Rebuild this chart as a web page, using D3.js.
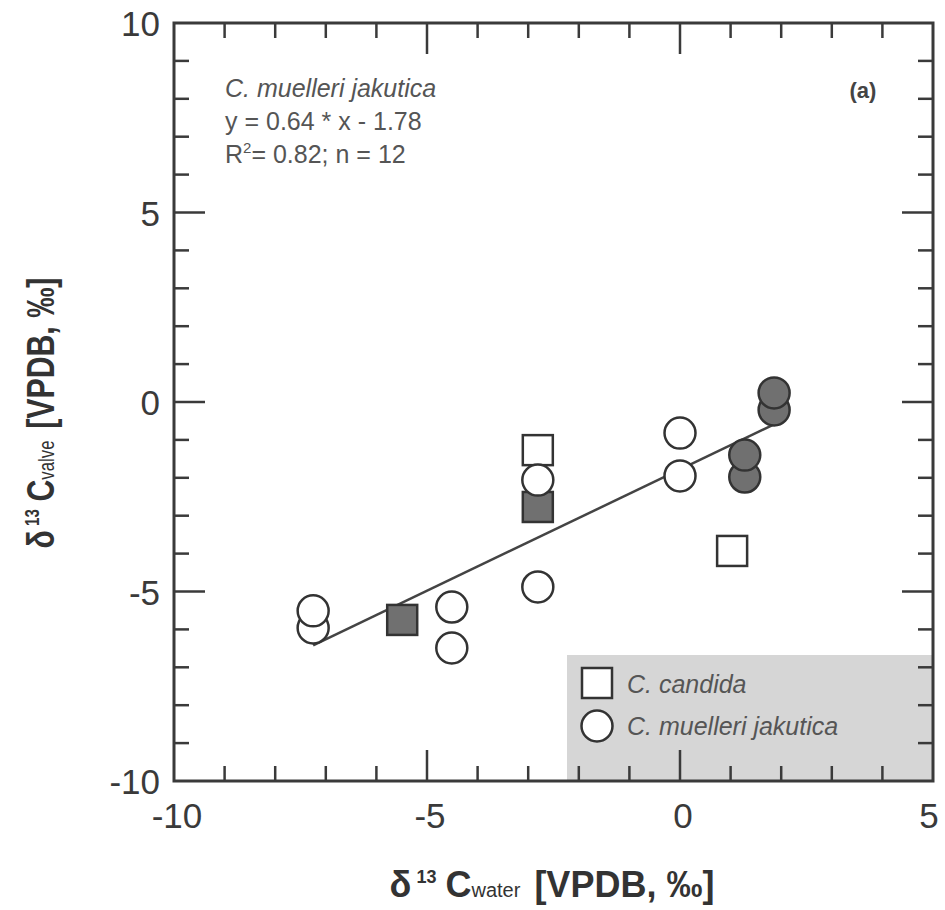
<!DOCTYPE html>
<html><head><meta charset="utf-8">
<script src="https://cdn.jsdelivr.net/npm/d3@7"></script>
<style>body{margin:0;background:#fff}</style>
</head><body>
<script>
// Data (x = δ13C water, y = δ13C valve)
const candidaOpen = [[-2.81,-1.27],[1.03,-3.93]];
const candidaFilled = [[-2.81,-2.77],[-5.49,-5.75]];
const muelleriOpen = [[-7.25,-5.96],[-7.25,-5.51],[-4.51,-6.49],[-4.51,-5.41],[-2.81,-4.88],[-2.81,-2.06],[0.0,-1.95],[0.0,-0.82]];
const muelleriFilled = [[1.28,-1.98],[1.28,-1.40],[1.86,-0.21],[1.86,0.24]];
const regression = {slope:0.64, intercept:-1.78, xMin:-7.25, xMax:1.86};
const xTicks = [-10,-5,0,5];
const yTicks = [-10,-5,0,5,10];
const annotation = ["C. muelleri jakutica","y = 0.64 * x - 1.78","R2= 0.82; n = 12"];
const legendItems = ["C. candida","C. muelleri jakutica"];

const W=945,H=910;
const L=174,R=933,T=23,B=781;
const svg=d3.select("body").append("svg").attr("width",W).attr("height",H);
const x=d3.scaleLinear().domain([-10,5]).range([L,R]);
const y=d3.scaleLinear().domain([-10,10]).range([B,T]);
const ink="#3a3a3a";
const font="'Liberation Sans', Arial, sans-serif";

// legend background
svg.append("rect").attr("x",567).attr("y",655).attr("width",R-567).attr("height",B-655).attr("fill","#d6d6d6");

// ticks (inward, all sides)
const minorX=d3.range(-10,5.01,1), minorY=d3.range(-10,10.01,1);
const tk=svg.append("g").attr("stroke",ink).attr("stroke-width",2.5);
minorX.forEach(v=>{
  const len = (v%5===0)?31:15;
  if(v>-10&&v<5){
    tk.append("line").attr("x1",x(v)).attr("x2",x(v)).attr("y1",B).attr("y2",B-len);
    tk.append("line").attr("x1",x(v)).attr("x2",x(v)).attr("y1",T).attr("y2",T+len);
  }
});
minorY.forEach(v=>{
  const len = (v%5===0)?31:15;
  if(v>-10&&v<10){
    tk.append("line").attr("y1",y(v)).attr("y2",y(v)).attr("x1",L).attr("x2",L+len);
    tk.append("line").attr("y1",y(v)).attr("y2",y(v)).attr("x1",R).attr("x2",R-len);
  }
});
svg.append("rect").attr("x",L).attr("y",T).attr("width",R-L).attr("height",B-T)
  .attr("fill","none").attr("stroke",ink).attr("stroke-width",3);

// tick labels
svg.append("g").selectAll("text").data(xTicks).join("text")
  .attr("x",d=>x(d)+(d===5?-4:3)).attr("y",B+47).attr("text-anchor","middle")
  .attr("font-family",font).attr("font-size",35).attr("fill",ink).text(d=>d);
svg.append("g").selectAll("text").data(yTicks).join("text")
  .attr("x",160).attr("y",d=>y(d)+13).attr("text-anchor","end")
  .attr("font-family",font).attr("font-size",35).attr("fill",ink).text(d=>d);

// regression line
svg.append("line")
  .attr("x1",x(regression.xMin)).attr("y1",y(regression.slope*regression.xMin+regression.intercept))
  .attr("x2",x(regression.xMax)).attr("y2",y(regression.slope*regression.xMax+regression.intercept))
  .attr("stroke","#444").attr("stroke-width",2.5);

// markers
const S=30, rC=15.5;
function squares(data,fill){
  svg.append("g").selectAll("rect").data(data).join("rect")
    .attr("x",d=>x(d[0])-S/2).attr("y",d=>y(d[1])-S/2).attr("width",S).attr("height",S)
    .attr("fill",fill).attr("stroke","#333").attr("stroke-width",2.5);
}
function circles(data,fill){
  svg.append("g").selectAll("circle").data(data).join("circle")
    .attr("cx",d=>x(d[0])).attr("cy",d=>y(d[1])).attr("r",rC)
    .attr("fill",fill).attr("stroke","#333").attr("stroke-width",2.5);
}
squares(candidaOpen,"#fff");
squares(candidaFilled,"#707070");
circles(muelleriOpen,"#fff");
circles(muelleriFilled,"#707070");

// annotation
const ann=svg.append("g").attr("font-family",font).attr("font-size",25).attr("fill","#555");
ann.append("text").attr("x",225).attr("y",97).attr("font-style","italic").text(annotation[0]);
ann.append("text").attr("x",225).attr("y",130).text(annotation[1]);
const r2=ann.append("text").attr("x",225).attr("y",163);
r2.append("tspan").text("R");
r2.append("tspan").attr("font-size",15).attr("dy",-10).text("2");
r2.append("tspan").attr("dy",10).text("= 0.82; n = 12");
svg.append("text").attr("x",863).attr("y",98).attr("text-anchor","middle")
  .attr("font-family",font).attr("font-size",22).attr("font-weight","bold").attr("fill","#444").text("(a)");

// legend
const lg=svg.append("g");
lg.append("rect").attr("x",582).attr("y",668).attr("width",30).attr("height",30)
  .attr("fill","#fff").attr("stroke","#333").attr("stroke-width",2.5);
lg.append("circle").attr("cx",597).attr("cy",726).attr("r",rC)
  .attr("fill","#fff").attr("stroke","#333").attr("stroke-width",2.5);
lg.selectAll("text").data(legendItems).join("text")
  .attr("x",627).attr("y",(d,i)=>693+i*42)
  .attr("font-family",font).attr("font-size",25).attr("font-style","italic").attr("fill","#555").text(d=>d);

// axis titles
const tf="'Liberation Sans Narrow','Arial Narrow','Liberation Sans',sans-serif";
function title(g,sub){
  g.attr("font-family",tf).attr("font-weight","bold").attr("font-size",36).attr("fill","#333");
  g.append("tspan").text("δ");
  g.append("tspan").attr("font-size",18).attr("dy",-14).attr("dx",5).text("13");
  g.append("tspan").attr("dy",14).attr("dx",9).text("C");
  g.append("tspan").attr("font-size",20).attr("font-weight","normal").text(sub);
  g.append("tspan").attr("dx",4).text(" [VPDB, ‰]");
}
title(svg.append("text").attr("x",552).attr("y",897).attr("text-anchor","middle"),"water");
title(svg.append("text").attr("transform","translate(54,413) rotate(-90) scale(0.84,1.1)").attr("text-anchor","middle"),"valve");
</script>
</body></html>
